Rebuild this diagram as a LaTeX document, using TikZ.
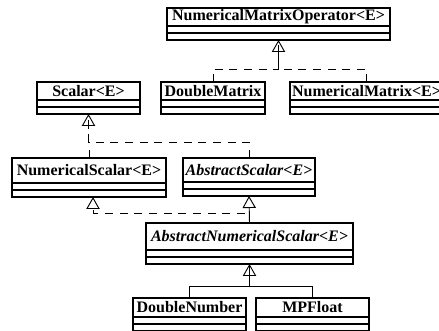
\documentclass[tikz,border=0pt]{standalone}
\usepackage{fontspec}
\setmainfont{Liberation Serif}
\usetikzlibrary{arrows.meta, positioning}

% one UML class: name, x, y (top left), width, title height, title
\newcommand{\umlclass}[6]{%
  \node[classname, minimum width=#4*0.75pt, minimum height=#5*0.75pt] (#1) at (#2,#3) {#6};
  \node[compart, minimum width=#4*0.75pt, below=0pt of #1] (#1-attr) {};
  \node[compart, minimum width=#4*0.75pt, below=0pt of #1-attr] (#1-ops) {};
}

\begin{document}
\begin{tikzpicture}[x=0.75pt, y=-0.75pt,
    every node/.style={font=\fontsize{12pt}{14pt}\selectfont\bfseries},
    classname/.style={rectangle, draw=black, line width=0.8pt, anchor=north west, inner sep=1pt, outer sep=0pt},
    compart/.style={rectangle, draw=black, line width=0.8pt, minimum height=5.25pt, inner sep=0pt, outer sep=0pt},
    realize/.style={line width=0.7pt, dash pattern=on 6pt off 5pt, -{Triangle[open, length=9pt, width=10pt]}},
    realizeline/.style={line width=0.7pt, dash pattern=on 6pt off 5pt},
    extend/.style={line width=0.7pt, -{Triangle[open, length=9pt, width=10pt]}},
    extendline/.style={line width=0.7pt}
]
\useasboundingbox (0,0) rectangle (439,331);

% Classes
\umlclass{nmo}{167}{8}{223}{18}{NumericalMatrixOperator<E>}
\umlclass{scalar}{37}{82}{103}{18}{Scalar<E>}
\umlclass{dmat}{161}{82}{104}{18}{DoubleMatrix}
\umlclass{nmat}{290}{82}{153}{18}{NumericalMatrix<E>}
\umlclass{nscalar}{12}{158}{154}{25}{NumericalScalar<E>}
\umlclass{ascalar}{183}{158}{132}{24}{\itshape AbstractScalar<E>}
\umlclass{anscalar}{146}{223}{207}{27}{\itshape AbstractNumericalScalar<E>}
\umlclass{dnum}{133}{298}{113}{19}{DoubleNumber}
\umlclass{mpf}{256}{298}{113}{19}{MPFloat}

% Realizations (dashed)
\draw[realize] (dmat.north) -- ++(0,-13) -| (nmo-ops.south);
\draw[realizeline] (nmat.north) -- ++(0,-13) -| (nmo-ops.south);

\draw[realize] (nscalar.north) -- ++(0,-16) -| (scalar-ops.south);
\draw[realizeline] (ascalar.north) -- ++(0,-16) -| (scalar-ops.south);

\draw[realize] (anscalar.north) -- ++(0,-10) -| ([xshift=3pt]nscalar-ops.south);

% Generalizations (solid)
\draw[extend] (anscalar.north) -- (ascalar-ops.south);
\draw[extend] (dnum.north) -- ++(0,-12) -| (anscalar-ops.south);
\draw[extendline] (mpf.north) -- ++(0,-12) -| (anscalar-ops.south);

\end{tikzpicture}
\end{document}
